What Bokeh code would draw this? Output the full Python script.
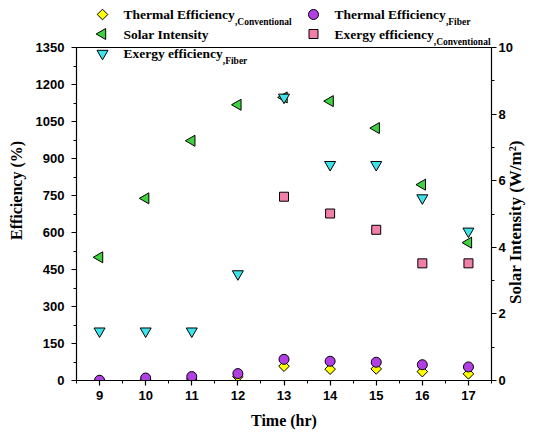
import math
import numpy as np
from bokeh.plotting import figure
from bokeh.models import (Range1d, LinearAxis, Label, Span, SingleIntervalTicker)
from bokeh.embed import file_html
from bokeh.resources import INLINE

# ---------------- data ----------------
hours = [9, 10, 11, 12, 13, 14, 15, 16, 17]
thermal_conv = [0, 3, 6, 16, 58, 46, 47, 36, 27]
thermal_fiber = [1, 10, 16, 28, 86, 78, 74, 64, 55]
solar_intensity = [3.70, 5.47, 7.20, 8.28, 8.50, 8.39, 7.58, 5.88, 4.14]
exergy_conv = np.array([np.nan, np.nan, np.nan, np.nan, 745, 677, 611, 475, 475])
exergy_fiber = [200, 200, 200, 432, 1148, 875, 875, 740, 605]

eff_max = 1350
solar_max = 10
x_lo, x_hi = 8.5, 17.5
x_label = "Time (hr)"
y_label = "Efficiency (%)"
y2_label = "Solar Intensity (W/m²)"

# ---------------- layout (pixels) ----------------
W, H = 537, 437
B_LEFT, B_RIGHT, B_BOTTOM = 76, 46, 57
AXIS_TOP = 47                      # pixel row of the box top (1350)
frame_h = H - B_BOTTOM             # frame reaches the top of the canvas
frame_w = W - B_LEFT - B_RIGHT
y_top = eff_max * frame_h / (frame_h - AXIS_TOP)

p = figure(width=W, height=H, output_backend="svg", toolbar_location=None,
           x_range=Range1d(x_lo, x_hi), y_range=Range1d(0, y_top),
           min_border_left=B_LEFT, min_border_top=0,
           min_border_right=B_RIGHT, min_border_bottom=B_BOTTOM)
p.extra_y_ranges = {"solar": Range1d(0, y_top * solar_max / eff_max)}
p.grid.visible = False
p.outline_line_color = None
p.background_fill_color = "white"
p.border_fill_color = "white"

# right-hand title: anchored at the bottom of the frame and pushed up by
# non-breaking spaces so it sits centred on the 0-10 part of the axis
PAD = "\u00a0" * 18
y2 = LinearAxis(y_range_name="solar", axis_label=PAD + y2_label)
p.add_layout(y2, "right")

p.xaxis.ticker = SingleIntervalTicker(interval=1, num_minor_ticks=2)
p.yaxis[0].ticker = SingleIntervalTicker(interval=150, num_minor_ticks=2)
y2.ticker = SingleIntervalTicker(interval=2, num_minor_ticks=2)
p.yaxis[0].bounds = (0, eff_max)
y2.bounds = (0, solar_max)

p.xaxis.axis_label = x_label
p.yaxis[0].axis_label = y_label

for ax in [p.xaxis[0], p.yaxis[0], y2]:
    ax.axis_line_color = "black"
    ax.axis_line_width = 1.2
    ax.major_tick_line_color = "black"
    ax.minor_tick_line_color = "black"
    ax.major_tick_line_width = 1.2
    ax.major_tick_out = 5
    ax.major_tick_in = 0
    ax.minor_tick_out = 3
    ax.minor_tick_in = 0
    ax.major_label_text_font = "Liberation Sans"
    ax.major_label_text_font_style = "bold"
    ax.major_label_text_font_size = "13px"
    ax.major_label_text_color = "black"
    ax.axis_label_text_font = "Liberation Serif"
    ax.axis_label_text_font_style = "bold"
    ax.axis_label_text_font_size = "16px"
    ax.axis_label_text_color = "black"

p.xaxis.major_label_standoff = 5
p.xaxis.axis_label_standoff = 9
p.yaxis[0].major_label_standoff = 7
p.yaxis[0].axis_label_standoff = 8
y2.major_label_standoff = 2
y2.axis_label_standoff = 0
y2.axis_label_text_font_size = "17px"
y2.axis_label_orientation = math.pi / 2
y2.axis_label_align = "start"

# top side of the box
p.add_layout(Span(location=eff_max, dimension="width", line_color="black", line_width=1.2))

# ---------------- glyphs ----------------
styles = {
    "tc": dict(marker="square", angle=math.pi / 4, size=7.5, fill_color="#FFFF00"),
    "tf": dict(marker="circle", size=10, fill_color="#B23FE3"),
    "si": dict(marker="triangle", angle=math.pi / 2, size=11, fill_color="#3FD13F"),
    "ec": dict(marker="square", size=9, fill_color="#F27FAA"),
    "ef": dict(marker="inverted_triangle", size=11, fill_color="#3DE3EA"),
}
outline = dict(line_color="black", line_width=1)

p.scatter(hours, thermal_conv, **styles["tc"], **outline)
p.scatter(hours, thermal_fiber, **styles["tf"], **outline)
p.scatter(hours, solar_intensity, y_range_name="solar", **styles["si"], **outline)
p.scatter(hours, exergy_conv, **styles["ec"], **outline)
p.scatter(hours, exergy_fiber, **styles["ef"], **outline)

# ---------------- legend (drawn by hand, partly above the box) ----------------
def px_to_x(px):
    return x_lo + (px - B_LEFT) * (x_hi - x_lo) / frame_w

def py_to_y(py):
    return (frame_h - py) * y_top / frame_h

leg_entries = [  # key, column, row, main text, subscript
    ("tc", 0, 0, "Thermal Efficiency", ",Conventional"),
    ("tf", 1, 0, "Thermal Efficiency", ",Fiber"),
    ("si", 0, 1, "Solar Intensity", None),
    ("ec", 1, 1, "Exergy efficiency", ",Conventional"),
    ("ef", 0, 2, "Exergy efficiency", ",Fiber"),
]
main_widths = {"Thermal Efficiency": 111.4, "Exergy efficiency": 99.3,
               "Solar Intensity": 85.1}
KEY_X = [102, 313]
ROW_Y = [14, 33.5, 53]
TEXT_OFF = 21

for key, col, row, main, sub in leg_entries:
    kx, ky = KEY_X[col], ROW_Y[row]
    p.scatter([px_to_x(kx)], [py_to_y(ky)], **styles[key], **outline)
    tx = kx + TEXT_OFF - B_LEFT
    p.add_layout(Label(x=tx, y=frame_h - ky, x_units="screen", y_units="screen",
                       text=main, text_font="Liberation Serif", text_font_style="bold",
                       text_font_size="13.5px", text_baseline="middle",
                       text_color="black"))
    if sub:
        p.add_layout(Label(x=tx + main_widths[main], y=frame_h - ky - 7.5,
                           x_units="screen", y_units="screen",
                           text=sub, text_font="Liberation Serif", text_font_style="bold",
                           text_font_size="9.5px", text_baseline="alphabetic",
                           text_color="black"))

open("out.html", "w").write(file_html(p, INLINE))
